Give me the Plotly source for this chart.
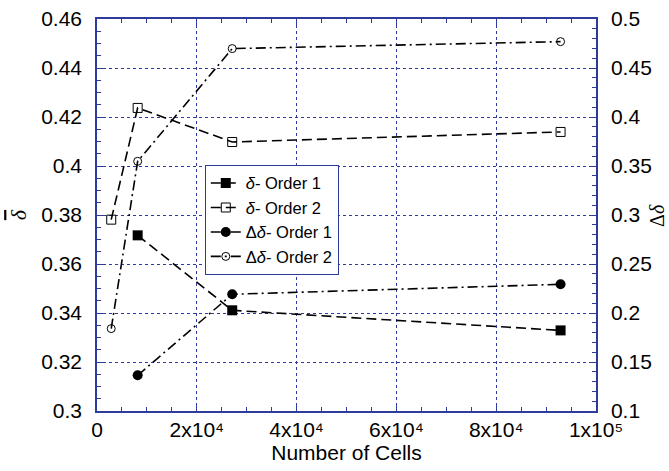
import plotly.graph_objects as go

# ---- data ----
cells_order1 = [8150, 27100, 92900]
cells_order2 = [2850, 8150, 27100, 92900]
delta_order1 = [0.3717, 0.3411, 0.3329]
delta_order2 = [0.3781, 0.4237, 0.4098, 0.4139]
ddelta_order1 = [0.1364, 0.2191, 0.2293]
ddelta_order2 = [0.1841, 0.3548, 0.4698, 0.4769]

x_tickvals = [0, 20000, 40000, 60000, 80000, 100000]
x_ticktext = ["0", "2x10\u2074", "4x10\u2074", "6x10\u2074", "8x10\u2074", "1x10\u2075"]
y_tickvals = [0.30, 0.32, 0.34, 0.36, 0.38, 0.40, 0.42, 0.44, 0.46]
y_ticktext = ["0.3", "0.32", "0.34", "0.36", "0.38", "0.4", "0.42", "0.44", "0.46"]
y2_tickvals = [0.1, 0.15, 0.2, 0.25, 0.3, 0.35, 0.4, 0.45, 0.5]
y2_ticktext = ["0.1", "0.15", "0.2", "0.25", "0.3", "0.35", "0.4", "0.45", "0.5"]

AX = "#2e3a9c"
FONT = "Liberation Sans, Arial, sans-serif"
SERIF = "Liberation Serif, Times New Roman, serif"

fig = go.Figure()
fig.add_trace(go.Scatter(
    x=cells_order1, y=delta_order1, name="<i>δ</i>- Order 1", mode="lines+markers",
    line=dict(color="black", width=1.6, dash="10px,5px"),
    marker=dict(symbol="square", size=10, color="black")))
fig.add_trace(go.Scatter(
    x=cells_order2, y=delta_order2, name="<i>δ</i>- Order 2", mode="lines+markers",
    line=dict(color="black", width=1.6, dash="10px,5px"),
    marker=dict(symbol="square-open", size=9, color="black", line=dict(width=1))))
fig.add_trace(go.Scatter(
    x=cells_order1, y=ddelta_order1, name="Δ<i>δ</i>- Order 1", mode="lines+markers",
    yaxis="y2",
    line=dict(color="black", width=1.6, dash="10px,4px,2px,4px"),
    marker=dict(symbol="circle", size=10, color="black")))
fig.add_trace(go.Scatter(
    x=cells_order2, y=ddelta_order2, name="Δ<i>δ</i>- Order 2", mode="lines+markers",
    yaxis="y2",
    line=dict(color="black", width=1.6, dash="10px,4px,2px,4px"),
    marker=dict(symbol="circle-open", size=8, color="black", line=dict(width=1))))

fig.update_layout(
    width=669, height=471,
    margin=dict(l=97, r=73, t=19, b=60, autoexpand=False),
    paper_bgcolor="white", plot_bgcolor="white",
    font=dict(family=FONT, size=21, color="black"),
    showlegend=True,
    legend=dict(x=0.216, y=0.628, xanchor="left", yanchor="top",
                bgcolor="white", bordercolor=AX, borderwidth=1,
                font=dict(size=16.5, family=FONT), tracegroupgap=0,
                itemsizing="trace"),
    xaxis=dict(
        range=[0, 100000], tickmode="array", tickvals=x_tickvals, ticktext=x_ticktext,
        showline=True, linecolor=AX, linewidth=1.5, mirror="ticks",
        ticks="inside", ticklen=6, tickcolor=AX,
        showgrid=True, gridcolor=AX, griddash="dot", gridwidth=1,
        minor=dict(dtick=5000, ticks="inside", ticklen=4, tickcolor=AX, showgrid=False),
        zeroline=False, automargin=False,
        title=dict(text="Number of Cells", font=dict(size=21), standoff=2),
        ticklabelstandoff=-1,
    ),
    yaxis=dict(
        range=[0.30, 0.46], tickmode="array", tickvals=y_tickvals, ticktext=y_ticktext,
        showline=True, linecolor=AX, linewidth=1.5,
        ticks="inside", ticklen=6, tickcolor=AX,
        showgrid=True, gridcolor=AX, griddash="dot", gridwidth=1,
        minor=dict(dtick=0.005, ticks="inside", ticklen=4, tickcolor=AX, showgrid=False),
        zeroline=False, automargin=False,
        ticklabelstandoff=9,
    ),
    yaxis2=dict(
        range=[0.1, 0.5], overlaying="y", side="right",
        tickmode="array", tickvals=y2_tickvals, ticktext=y2_ticktext,
        showline=True, linecolor=AX, linewidth=1.5,
        ticks="inside", ticklen=6, tickcolor=AX,
        showgrid=False,
        minor=dict(dtick=0.01, ticks="inside", ticklen=4, tickcolor=AX, showgrid=False),
        zeroline=False, automargin=False,
        ticklabelstandoff=9,
    ),
    annotations=[
        dict(text="<span style='text-decoration:overline'><i>δ</i></span>",
             xref="paper", yref="paper", x=-0.158, y=0.5, textangle=-90,
             showarrow=False, font=dict(family=SERIF, size=22),
             xanchor="center", yanchor="middle"),
        dict(text="Δ<i>δ</i>",
             xref="paper", yref="paper", x=1.122, y=0.5, textangle=-90,
             showarrow=False, font=dict(family=SERIF, size=20),
             xanchor="center", yanchor="middle"),
    ],
)

fig.write_html("out.html", config={"displayModeBar": False},
               post_script="document.body.style.margin='0';")
